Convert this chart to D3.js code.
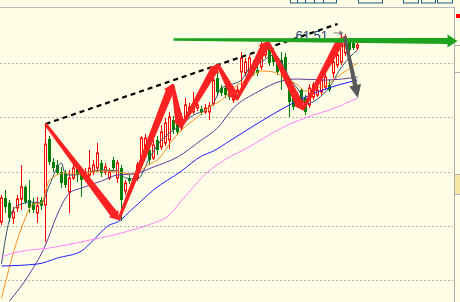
<!DOCTYPE html>
<html>
<head>
<meta charset="utf-8">
<script src="https://cdn.jsdelivr.net/npm/d3@7"></script>
<style>
html, body { margin: 0; padding: 0; background: #ffffe8; }
svg { display: block; }
</style>
</head>
<body>
<div class="chart"></div>
<script>
// candles (one every 4 px)
const open = [2560,2608,2598,2568,2588,2606,2630,2604,2598,2578,
  2604,2594,2726,2680,2674,2660,2658,2620,2648,2670,
  2660,2652,2654,2660,2668,2678,2660,2648,2684,2648,
  2668,2622,2648,2648,2648,2678,2704,2704,2688,2724,
  2710,2718,2724,2764,2758,2748,2770,2778,2780,2788,
  2786,2780,2780,2796,2848,2828,2828,2824,2804,2810,
  2860,2858,2854,2878,2864,2870,2894,2910,2900,2884,
  2884,2890,2844,2810,2794,2824,2808,2794,2810,2814,
  2820,2830,2834,2858,2874,2880,2898,2920,2918,2908];
const high = [2614,2624,2604,2590,2614,2674,2634,2644,2608,2610,
  2610,2756,2732,2688,2684,2670,2664,2664,2680,2676,
  2670,2668,2704,2684,2718,2684,2678,2668,2690,2684,
  2674,2644,2654,2652,2680,2732,2736,2718,2724,2732,
  2754,2768,2780,2772,2764,2778,2808,2798,2820,2800,
  2792,2796,2800,2854,2864,2834,2832,2830,2820,2832,
  2900,2888,2894,2884,2872,2920,2920,2916,2908,2892,
  2900,2898,2848,2814,2810,2828,2814,2836,2840,2830,
  2850,2856,2844,2888,2900,2938,2936,2928,2924,2920];
const low = [2554,2578,2560,2556,2580,2584,2596,2578,2578,2558,
  2584,2520,2674,2660,2654,2628,2628,2578,2644,2640,
  2610,2648,2650,2654,2660,2650,2654,2644,2664,2638,
  2562,2614,2636,2638,2642,2672,2700,2674,2684,2694,
  2704,2712,2706,2736,2734,2742,2764,2772,2776,2782,
  2774,2776,2764,2792,2812,2812,2808,2804,2798,2804,
  2828,2852,2848,2852,2852,2864,2888,2872,2872,2854,
  2824,2844,2770,2784,2788,2784,2774,2788,2804,2810,
  2814,2824,2820,2848,2868,2874,2892,2898,2904,2904];
const close = [2608,2590,2568,2580,2606,2630,2600,2588,2584,2592,
  2592,2716,2680,2668,2658,2638,2634,2648,2668,2654,
  2644,2660,2668,2674,2698,2658,2670,2660,2668,2678,
  2604,2638,2642,2644,2674,2728,2728,2684,2714,2704,
  2740,2758,2770,2744,2740,2770,2794,2790,2794,2794,
  2780,2788,2792,2844,2820,2818,2814,2810,2814,2824,
  2888,2880,2888,2858,2858,2914,2912,2878,2880,2860,
  2864,2850,2800,2790,2804,2798,2780,2828,2834,2824,
  2844,2850,2824,2880,2894,2928,2930,2904,2908,2914];

// moving averages, sampled as [candle index, value]
const ma5 = [[0,2476],[1.5,2548],[3,2586],[5,2596],[8,2600],[10,2598],[12,2634],[15,2678],[16,2654],
  [18,2654],[22,2660],[25,2664],[29,2662],[31,2648],[34,2646],[37,2688],[39,2714],[42,2738],[45,2754],
  [48,2774],[51,2784],[53,2798],[55,2828],[57,2834],[60,2844],[62,2868],[65,2880],[68,2894],[70,2880],
  [72,2848],[75,2814],[76,2796],[79,2806],[82,2830],[85,2870],[89,2904]];
const ma10 = [[0,2408],[5,2548],[8,2596],[10,2598],[12,2644],[16,2658],[19,2656],[25,2662],[29,2660],
  [33,2656],[37,2676],[39,2684],[42,2716],[45,2744],[49,2770],[52,2790],[55,2804],[58,2828],[62,2848],
  [65,2862],[68,2860],[71,2848],[74,2834],[76,2822],[78,2826],[82,2838],[85,2856],[89,2878]];
const ma20 = [[2,2402],[7,2456],[11,2514],[14,2576],[17,2618],[20,2628],[25,2642],[29,2654],[33,2656],
  [38,2670],[44,2690],[50,2724],[54,2748],[58,2788],[64,2820],[70,2842],[74,2846],[81,2844],[89,2850]];
const ma30 = [[0,2472],[9,2476],[14,2488],[20,2502],[23,2524],[27,2554],[29,2560],[33,2588],[38,2624],
  [45,2662],[50,2692],[53,2702],[57,2722],[65,2762],[71,2790],[76,2810],[81,2826],[87,2840],[89,2844]];
const ma60 = [[0,2490],[4,2500],[12,2508],[21,2522],[29,2536],[38,2558],[41,2568],[46,2612],[51,2656],
  [57,2690],[61,2706],[70,2748],[78,2774],[82,2784],[89,2808]];
const maColors = ["#2f4f6f", "#ff8c1a", "#663399", "#1a1aff", "#ff80ff"];

const gridLevels = [2878, 2770, 2660, 2552, 2444];

// drawn annotations, [candle index, value]
const trendLine = [[11, 2756], [84, 2956]];
const zigzag = [[11, 2756], [29.25, 2564], [42.75, 2836], [44.75, 2748], [54, 2876],
  [58.75, 2804], [66.5, 2922], [75.25, 2784], [85.25, 2930]];
const greenArrow = [[43, 2925], [114, 2922]];
const grayArrow = [[85.75, 2932], [89.1, 2808]];
const smallArrow = [[83, 2938], [85.5, 2938]];
const priceLabel = [73.5, 2924, "61.51"];

const width = 460, height = 302;

const svg = d3.select(".chart").append("svg")
  .attr("width", width)
  .attr("height", height);

svg.append("rect").attr("width", width).attr("height", height).attr("fill", "#ffffe8");

const x = d3.scaleLinear().domain([0, 89]).range([1.5, 357.5]);
const y = d3.scaleLinear().domain([2400, 3004]).range([302, 0]);

// grid
svg.selectAll(".grid").data(gridLevels).join("line")
  .attr("x1", 0).attr("x2", 453)
  .attr("y1", d => Math.round(y(d)) + 0.5).attr("y2", d => Math.round(y(d)) + 0.5)
  .attr("stroke", "#b4b4b4").attr("stroke-dasharray", "2,2");

// frame bits
svg.append("line").attr("x1", 0).attr("x2", 454).attr("y1", 7.5).attr("y2", 7.5).attr("stroke", "#b8b8b8");
svg.append("line").attr("x1", 454.5).attr("x2", 454.5).attr("y1", 7).attr("y2", height).attr("stroke", "#b0b0b0");
[45.5, 72.5].forEach(t => svg.append("line").attr("x1", 454).attr("x2", 460).attr("y1", t).attr("y2", t).attr("stroke", "#b0b0b0"));
svg.append("rect").attr("x", 456).attr("y", 14).attr("width", 4).attr("height", 4).attr("fill", "#ff0000");
svg.append("rect").attr("x", 454.5).attr("y", 174.5).attr("width", 8).attr("height", 20)
  .attr("fill", "#f8e6a4").attr("stroke", "#b0b0b0");

// cut-off buttons on top
const btn = svg.append("g").attr("fill", "none").attr("stroke", "#1f5b7a").attr("stroke-width", 1);
btn.append("rect").attr("x", 290.5).attr("y", -6).attr("width", 46).attr("height", 9);
[297.5, 305.5, 314.5, 323.5].forEach(b => btn.append("line").attr("x1", b).attr("x2", b).attr("y1", 0).attr("y2", 3));
btn.append("rect").attr("x", 358.5).attr("y", -6).attr("width", 24).attr("height", 9);
[[403.5, 15], [421.5, 14], [437.5, 15]].forEach(b => btn.append("rect").attr("x", b[0]).attr("y", -6).attr("width", b[1]).attr("height", 9));

// candles
const idx = d3.range(open.length);
const candles = svg.append("g");
candles.selectAll("line").data(idx).join("line")
  .attr("x1", i => x(i)).attr("x2", i => x(i))
  .attr("y1", i => y(high[i])).attr("y2", i => y(low[i]))
  .attr("stroke", i => close[i] >= open[i] ? "#ff0000" : "#008000");
candles.selectAll("rect").data(idx).join("rect")
  .attr("x", i => close[i] >= open[i] ? x(i) - 1 : x(i) - 1.5)
  .attr("width", i => close[i] >= open[i] ? 2 : 3)
  .attr("y", i => y(Math.max(open[i], close[i])))
  .attr("height", i => Math.max(1, Math.abs(y(open[i]) - y(close[i]))))
  .attr("fill", i => close[i] >= open[i] ? "#ffffe8" : "#008000")
  .attr("stroke", i => close[i] >= open[i] ? "#ff0000" : "none");

// moving averages
const line = d3.line().x(d => x(d[0])).y(d => y(d[1])).curve(d3.curveMonotoneX);
[ma5, ma10, ma20, ma30, ma60].forEach((m, k) => {
  svg.append("path").datum(m).attr("d", line)
    .attr("fill", "none").attr("stroke", maColors[k]).attr("stroke-width", 1);
});

// trend line
svg.append("path").datum(trendLine)
  .attr("d", d3.line().x(d => x(d[0])).y(d => y(d[1])))
  .attr("fill", "none").attr("stroke", "#000").attr("stroke-width", 2.2)
  .attr("stroke-dasharray", "5,4");

// tapered arrow polygon in pixel space
function arrow(a, b, w0, w1, headW, headL) {
  const p0 = [x(a[0]), y(a[1])], p1 = [x(b[0]), y(b[1])];
  const dx = p1[0] - p0[0], dy = p1[1] - p0[1];
  const len = Math.hypot(dx, dy);
  const ux = dx / len, uy = dy / len, nx = -uy, ny = ux;
  const bx = p1[0] - ux * headL, by = p1[1] - uy * headL;
  const pts = [
    [p0[0] + nx * w0 / 2, p0[1] + ny * w0 / 2],
    [bx + nx * w1 / 2, by + ny * w1 / 2],
    [bx + nx * headW / 2, by + ny * headW / 2],
    p1,
    [bx - nx * headW / 2, by - ny * headW / 2],
    [bx - nx * w1 / 2, by - ny * w1 / 2],
    [p0[0] - nx * w0 / 2, p0[1] - ny * w0 / 2]
  ];
  return "M" + pts.map(p => p.join(",")).join("L") + "Z";
}

// red zigzag
const zz = svg.append("g").attr("fill", "#ff2222");
d3.pairs(zigzag).forEach(([a, b]) => {
  zz.append("path").attr("d", arrow(a, b, 3, 8, 12, 8));
});

// label
svg.append("text")
  .attr("x", x(priceLabel[0])).attr("y", y(priceLabel[1]))
  .attr("font-family", "Liberation Sans, Arial, sans-serif").attr("font-size", 13)
  .attr("fill", "#1d3f6e").text(priceLabel[2]);

// small gray pointer
svg.append("path").attr("d", arrow(smallArrow[0], smallArrow[1], 1, 1, 5, 4)).attr("fill", "#777");

// green horizontal arrow
svg.append("path").attr("d", arrow(greenArrow[0], greenArrow[1], 2.5, 6, 13, 10))
  .attr("fill", "#1fa31f");

// gray arrow
svg.append("path").attr("d", arrow(grayArrow[0], grayArrow[1], 3, 4.5, 12, 13))
  .attr("fill", "#5a5a5a");
</script>
</body>
</html>
